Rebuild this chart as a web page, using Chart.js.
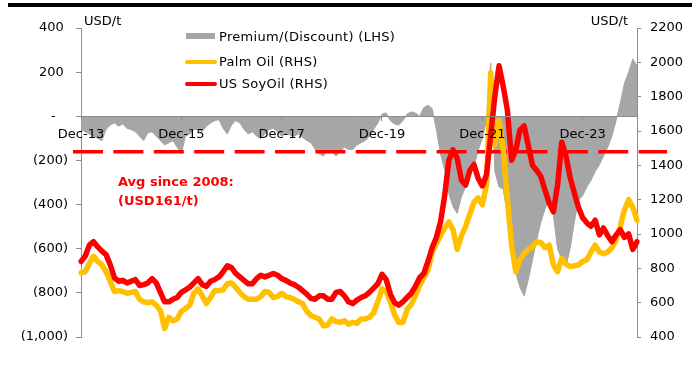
<!DOCTYPE html>
<html>
<head>
<meta charset="utf-8">
<script src="https://cdn.jsdelivr.net/npm/chart.js@4.4.1/dist/chart.umd.min.js"></script>
<style>
  html, body { margin: 0; padding: 0; background: #fff; }
  #wrap { position: relative; width: 697px; height: 392px; font-family: "DejaVu Sans", sans-serif; color: #000; }
  #chart { position: absolute; left: 0; top: 0; }
  .topbar { position: absolute; left: 8px; right: 5px; top: 3px; height: 4px; background: #000; }
  .unit { position: absolute; top: 13px; font-size: 13px; line-height: 16px; }
  .lg-text { position: absolute; left: 219px; font-size: 13px; line-height: 16px; white-space: nowrap; letter-spacing: 0.3px; }
  .lg-box { position: absolute; left: 186px; width: 29px; height: 6px; background: #A6A6A6; }
  .lg-line { position: absolute; left: 185px; width: 32px; height: 4px; border-radius: 2px; }
  .note { position: absolute; left: 118px; font-size: 13px; line-height: 16px; font-weight: bold; color: #FF0000; white-space: nowrap; }
</style>
</head>
<body>
<div id="wrap">
  <canvas id="chart" width="697" height="392"></canvas>
  <div class="topbar"></div>
  <div class="unit" style="left:84px;">USD/t</div>
  <div class="unit" style="right:69px;">USD/t</div>

  <div class="lg-box" style="top:33px;"></div>
  <div class="lg-text" style="top:29px;">Premium/(Discount) (LHS)</div>
  <div class="lg-line" style="top:60px; background:#FFC000;"></div>
  <div class="lg-text" style="top:54px;">Palm Oil (RHS)</div>
  <div class="lg-line" style="top:82px; background:#FF0000;"></div>
  <div class="lg-text" style="top:76px;">US SoyOil (RHS)</div>

  <div class="note" style="top:174px;">Avg since 2008:</div>
  <div class="note" style="top:193px;">(USD161/t)</div>
</div>
<script>
// Monthly series, Dec-2013 through Jan-2025 (USD/t)
const palmOil = [
  775, 780, 830, 870, 840, 820, 780, 725, 665, 670,
  665, 655, 660, 665, 620, 605, 600, 605, 585, 555,
  450, 515, 495, 505, 550, 565, 585, 655, 680, 640,
  595, 630, 670, 670, 675, 710, 715, 690, 660, 635,
  620, 620, 620, 635, 665, 660, 630, 635, 655, 635,
  630, 620, 605, 595, 550, 525, 515, 505, 465, 470,
  505, 490, 485, 495, 475, 485, 480, 505, 505, 515,
  540, 605, 680, 665, 605, 530, 485, 485, 560, 590,
  640, 700, 745, 790, 895, 945, 990, 1035, 1070, 1025,
  910, 990, 1045, 1115, 1185, 1210, 1170, 1285, 1940, 1515,
  1660, 1490, 1200, 935, 780, 850, 885, 910, 925, 955,
  950, 920, 935, 820, 780, 860, 825, 810, 815, 820,
  840, 850, 895, 935, 895, 885, 895, 920, 965, 1045,
  1140, 1200, 1155, 1080
];

const soyOil = [
  840, 870, 935, 955, 925, 900, 880, 820, 745, 725,
  730, 715, 725, 735, 700, 705, 715, 740, 715, 660,
  605, 605, 620, 630, 660, 675, 690, 715, 740, 705,
  695, 725, 735, 750, 780, 815, 805, 770, 750, 730,
  710, 710, 740, 760, 750, 760, 770, 760, 740, 730,
  715, 705, 690, 670, 650, 625, 620, 640, 640, 620,
  620, 660, 665, 640, 605, 595, 615, 630, 640, 660,
  685, 710, 765, 735, 650, 600, 585, 605, 630, 655,
  695, 745, 770, 840, 920, 980, 1070, 1225, 1430, 1490,
  1440, 1315, 1285, 1370, 1405, 1325, 1280, 1345, 1575, 1805,
  1980, 1860, 1720, 1430, 1490, 1605, 1630, 1515, 1400, 1370,
  1335, 1255, 1180, 1130, 1285, 1535, 1455, 1330, 1240, 1155,
  1095, 1065, 1045, 1080, 995, 1035, 990, 955, 995, 1025,
  980, 1000, 910, 955
];

// Palm oil premium / (discount) to soy oil
const premium = [
  -60, -70, -80, -90, -100, -110, -60, -40, -30, -45,
  -35, -55, -60, -70, -90, -110, -75, -70, -90, -110,
  -130, -120, -110, -140, -170, -90, -80, -60, -60, -70,
  -45, -30, -20, -15, -55, -80, -40, -20, -30, -60,
  -80, -70, -90, -100, -80, -60, -55, -70, -90, -80,
  -85, -90, -80, -95, -110, -120, -150, -170, -180, -150,
  -160, -180, -160, -140, -150, -150, -130, -120, -110, -90,
  -60, -30, 10, 15, -20, -35, -40, -20, 10, 20,
  15, 0, 40, 50, 35, -60, -170, -245, -350, -410,
  -440, -365, -320, -260, -230, -155, -100, -20, 240, -250,
  -320, -330, -450, -520, -710, -775, -815, -740, -650, -560,
  -480, -420, -380, -450, -600, -650, -680, -600, -480, -380,
  -360, -320, -290, -250, -220, -180, -140, -90, -20, 60,
  150, 200, 260, 230
];

const avgSince2008 = -161;
const xTickLabels = ['Dec-13', 'Dec-15', 'Dec-17', 'Dec-19', 'Dec-21', 'Dec-23'];

const monthNames = ['Jan','Feb','Mar','Apr','May','Jun','Jul','Aug','Sep','Oct','Nov','Dec'];
const months = premium.map((_, i) => {
  const k = 11 + i;
  return monthNames[k % 12] + '-' + String(13 + Math.floor(k / 12)).padStart(2, '0');
});

const axisGrey = '#8c8c8c';
const tickFont = { family: 'DejaVu Sans', size: 13 };

// Dashed long-run average, drawn right after the premium area
const avgLine = {
  id: 'avgLine',
  afterDatasetDraw(chart, args) {
    if (args.meta.yAxisID !== 'y') return;
    const ctx = chart.ctx;
    const y = chart.scales.y.getPixelForValue(avgSince2008);
    const { left, right } = chart.chartArea;
    ctx.save();
    ctx.strokeStyle = '#FF0000';
    ctx.lineWidth = 3.5;
    ctx.setLineDash([30, 10.4]);
    ctx.beginPath();
    ctx.moveTo(left - 8, y);
    ctx.lineTo(right + 30, y);
    ctx.stroke();
    ctx.restore();
  }
};

new Chart(document.getElementById('chart'), {
  type: 'line',
  data: {
    labels: months,
    datasets: [
      {
        label: 'US SoyOil (RHS)', data: soyOil, yAxisID: 'y2', order: 1,
        borderColor: '#FF0000', borderWidth: 5.5, pointRadius: 0, tension: 0,
        fill: false, borderJoinStyle: 'round', borderCapStyle: 'round'
      },
      {
        label: 'Palm Oil (RHS)', data: palmOil, yAxisID: 'y2', order: 2,
        borderColor: '#FFC000', borderWidth: 5.5, pointRadius: 0, tension: 0,
        fill: false, borderJoinStyle: 'round', borderCapStyle: 'round'
      },
      {
        label: 'Premium/(Discount) (LHS)', data: premium, yAxisID: 'y', order: 3,
        borderColor: '#A6A6A6', backgroundColor: '#A6A6A6', borderWidth: 1,
        pointRadius: 0, tension: 0, fill: 'origin'
      }
    ]
  },
  options: {
    responsive: false,
    animation: false,
    devicePixelRatio: 1,
    layout: { padding: { top: 28, bottom: 55, left: 0, right: 0 } },
    plugins: { legend: { display: false }, tooltip: { enabled: false } },
    scales: {
      x: {
        position: { y: 0 },
        offset: false,
        grid: { display: true, drawOnChartArea: false, drawTicks: true, tickLength: 4, color: axisGrey, z: 1 },
        border: { display: true, color: axisGrey, width: 1, z: 1 },
        ticks: {
          autoSkip: false, maxRotation: 0, minRotation: 0, padding: 7, color: '#000', font: tickFont, z: 1,
          callback: (v, i) => xTickLabels.includes(months[i]) ? months[i] : null
        }
      },
      y: {
        position: 'left', min: -1000, max: 400,
        grid: { display: true, drawOnChartArea: false, drawTicks: true, tickLength: 5, color: axisGrey },
        border: { display: true, color: axisGrey, width: 1 },
        ticks: {
          stepSize: 200, padding: 8, color: '#000', font: tickFont,
          callback: v => v === 0 ? '-   ' : (v < 0 ? '(' + Math.abs(v).toLocaleString('en-US') + ')' : v.toLocaleString('en-US') + ' ')
        },
        afterFit: s => { s.width = 81; }
      },
      y2: {
        position: 'right', min: 400, max: 2200,
        grid: { display: true, drawOnChartArea: false, drawTicks: true, tickLength: 4, color: axisGrey },
        border: { display: true, color: axisGrey, width: 1 },
        ticks: { stepSize: 200, padding: 9, color: '#000', font: tickFont, callback: v => String(v) },
        afterFit: s => { s.width = 60; }
      }
    }
  },
  plugins: [avgLine]
});
</script>
</body>
</html>
